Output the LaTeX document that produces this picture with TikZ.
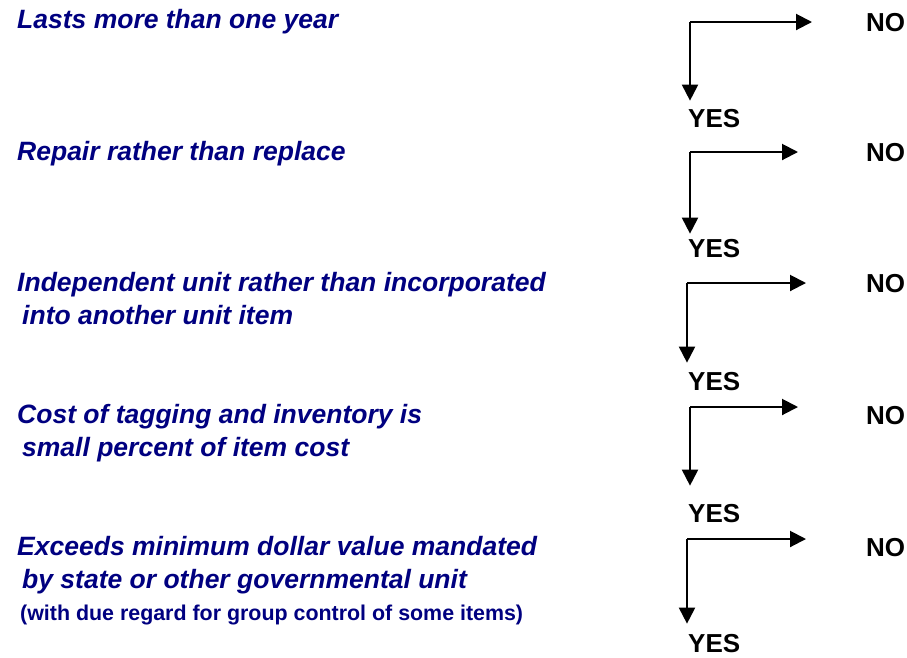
\documentclass[tikz,border=0pt]{standalone}
\usepackage{fontspec}
\setmainfont{Liberation Sans}
\usepackage{tikz}
\usetikzlibrary{arrows.meta, positioning, calc}
\definecolor{qnavy}{RGB}{0,0,128}

\begin{document}
\begin{tikzpicture}[x=1pt,y=-1pt,
 question/.style={anchor=base west,inner sep=0,text=qnavy,font=\fontsize{26.5}{32}\selectfont\bfseries\itshape},
 remark/.style={anchor=base west,inner sep=0,text=qnavy,font=\fontsize{21.4}{25}\selectfont\bfseries},
 answer/.style={anchor=base west,inner sep=0,font=\fontsize{26}{32}\selectfont\bfseries},
 flow/.style={line width=2pt,-{Triangle[length=16pt,width=16pt]}}]
 \useasboundingbox (0,0) rectangle (907,657);

 % questions
 \node[question] at (17,28) (q1) {Lasts more than one year};
 \node[question] at (17,160) (q2) {Repair rather than replace};
 \node[question] at (17,291) (q3) {Independent unit rather than incorporated};
 \node[question] at (22,324) (q3b) {into another unit item};
 \node[question] at (17,423) (q4) {Cost of tagging and inventory is};
 \node[question] at (22,456) (q4b) {small percent of item cost};
 \node[question] at (17,555) (q5) {Exceeds minimum dollar value mandated};
 \node[question] at (22,588) (q5b) {by state or other governmental unit};
 \node[remark] at (20,620) (q5c) {(with due regard for group control of some items)};

 % answers
 \node[answer] at (688,127) (y1) {YES};
 \node[answer] at (688,257) (y2) {YES};
 \node[answer] at (688,390) (y3) {YES};
 \node[answer] at (688,522) (y4) {YES};
 \node[answer] at (688,652) (y5) {YES};
 \node[answer] at (866,31) (n1) {NO};
 \node[answer] at (866,161) (n2) {NO};
 \node[answer] at (866,292) (n3) {NO};
 \node[answer] at (866,424) (n4) {NO};
 \node[answer] at (866,556) (n5) {NO};

 % branches
 \coordinate (c1) at (690,22);
 \coordinate (c2) at (690,152);
 \coordinate (c3) at (687,283);
 \coordinate (c4) at (690,407);
 \coordinate (c5) at (687,539);

 \draw[flow,shorten >=54pt] (c1) -- (c1 -| n1.west);
 \draw[flow,shorten >=8pt] (c1) -- (c1 |- y1.north);
 \draw[flow,shorten >=68pt] (c2) -- (c2 -| n2.west);
 \draw[flow,shorten >=5pt] (c2) -- (c2 |- y2.north);
 \draw[flow,shorten >=60pt] (c3) -- (c3 -| n3.west);
 \draw[flow,shorten >=9pt] (c3) -- (c3 |- y3.north);
 \draw[flow,shorten >=68pt] (c4) -- (c4 -| n4.west);
 \draw[flow,shorten >=18pt] (c4) -- (c4 |- y4.north);
 \draw[flow,shorten >=60pt] (c5) -- (c5 -| n5.west);
 \draw[flow,shorten >=10pt] (c5) -- (c5 |- y5.north);
\end{tikzpicture}
\end{document}
